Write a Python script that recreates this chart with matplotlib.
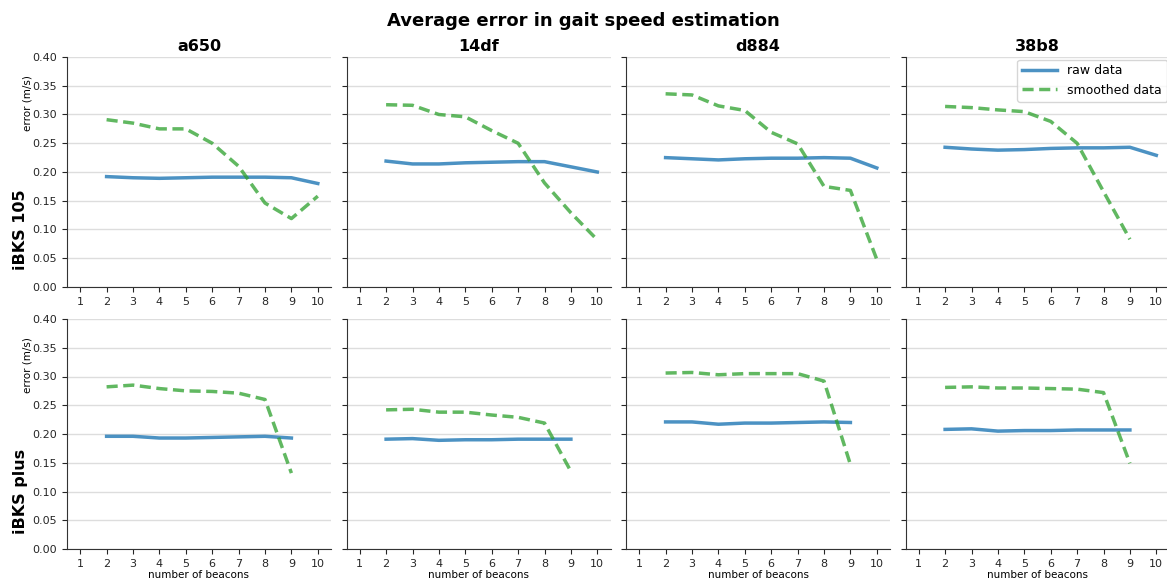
import matplotlib
matplotlib.use("Agg")
import matplotlib.pyplot as plt

beacons = [2, 3, 4, 5, 6, 7, 8, 9, 10]
devices = ["a650", "14df", "d884", "38b8"]
filas = ["iBKS 105", "iBKS plus"]

# iBKS 105
raw_105 = {
    "a650": [0.192, 0.190, 0.189, 0.190, 0.191, 0.191, 0.191, 0.190, 0.180],
    "14df": [0.219, 0.214, 0.214, 0.216, 0.217, 0.218, 0.218, 0.209, 0.200],
    "d884": [0.225, 0.223, 0.221, 0.223, 0.224, 0.224, 0.225, 0.224, 0.207],
    "38b8": [0.243, 0.240, 0.238, 0.239, 0.241, 0.242, 0.242, 0.243, 0.229],
}
smooth_105 = {
    "a650": [0.291, 0.285, 0.275, 0.275, 0.250, 0.210, 0.146, 0.119, 0.158],
    "14df": [0.317, 0.316, 0.300, 0.296, 0.272, 0.250, 0.181, 0.129, 0.082],
    "d884": [0.336, 0.334, 0.315, 0.307, 0.269, 0.249, 0.175, 0.168, 0.048],
    "38b8": [0.314, 0.312, 0.308, 0.305, 0.288, 0.250, 0.166, 0.083],
}
# iBKS plus
raw_plus = {
    "a650": [0.196, 0.196, 0.193, 0.193, 0.194, 0.195, 0.196, 0.193],
    "14df": [0.191, 0.192, 0.189, 0.190, 0.190, 0.191, 0.191, 0.191],
    "d884": [0.221, 0.221, 0.217, 0.219, 0.219, 0.220, 0.221, 0.220],
    "38b8": [0.208, 0.209, 0.205, 0.206, 0.206, 0.207, 0.207, 0.207],
}
smooth_plus = {
    "a650": [0.282, 0.285, 0.279, 0.275, 0.274, 0.271, 0.260, 0.132],
    "14df": [0.242, 0.243, 0.238, 0.238, 0.233, 0.229, 0.219, 0.135],
    "d884": [0.306, 0.307, 0.303, 0.305, 0.305, 0.305, 0.292, 0.147],
    "38b8": [0.281, 0.282, 0.280, 0.280, 0.279, 0.278, 0.272, 0.149],
}

datos = [(raw_105, smooth_105), (raw_plus, smooth_plus)]

fig = plt.figure(figsize=(11.67, 5.81), dpi=100)
fig.suptitle("Average error in gait speed estimation", fontsize=13,
             fontweight="bold", y=0.98)

izq = 67 / 1167
ancho = 264 / 1167
paso = 279.5 / 1167
bases = [1 - 287 / 581, 1 - 549 / 581]
alto = 230 / 581

gris = "#333333"
for r, (raw, smooth) in enumerate(datos):
    for c, dev in enumerate(devices):
        ax = fig.add_axes([izq + c * paso, bases[r], ancho, alto])
        y_raw = raw[dev]
        y_smooth = smooth[dev]
        ax.plot(beacons[:len(y_raw)], y_raw, color="tab:blue", alpha=0.8,
                lw=2.5, label="raw data")
        ax.plot(beacons[:len(y_smooth)], y_smooth, color="tab:green",
                alpha=0.75, lw=2.5, ls=(0, (3.2, 1.6)), label="smoothed data")
        ax.set_xlim(0.5, 10.5)
        ax.set_ylim(0, 0.4)
        ax.set_xticks(range(1, 11))
        ax.set_yticks([i * 0.05 for i in range(9)])
        ax.yaxis.grid(True, color="#dddddd", lw=1)
        ax.set_axisbelow(True)
        for s in ["top", "right"]:
            ax.spines[s].set_visible(False)
        for s in ["left", "bottom"]:
            ax.spines[s].set_color(gris)
        ax.tick_params(labelsize=8, colors="#262626", length=3.5)
        if c == 0:
            ax.set_yticklabels([f"{i * 0.05:.2f}" for i in range(9)])
            ax.set_ylabel("error (m/s)", fontsize=7.5)
            ax.yaxis.set_label_coords(-0.13, 0.80)
            fig.text(21 / 1167, bases[r] + alto * 0.25, filas[r], rotation=90,
                     fontsize=11.5, fontweight="bold", va="center", ha="center")
        else:
            ax.set_yticklabels([])
        if r == 0:
            ax.set_title(dev, fontsize=11.5, fontweight="bold", pad=4)
        else:
            ax.set_xlabel("number of beacons", fontsize=7.5, labelpad=1)
        if r == 0 and c == 3:
            ax.legend(loc="upper right", fontsize=9, borderaxespad=0.2,
                      handlelength=2.8)

fig.savefig("out.png", dpi=100)
